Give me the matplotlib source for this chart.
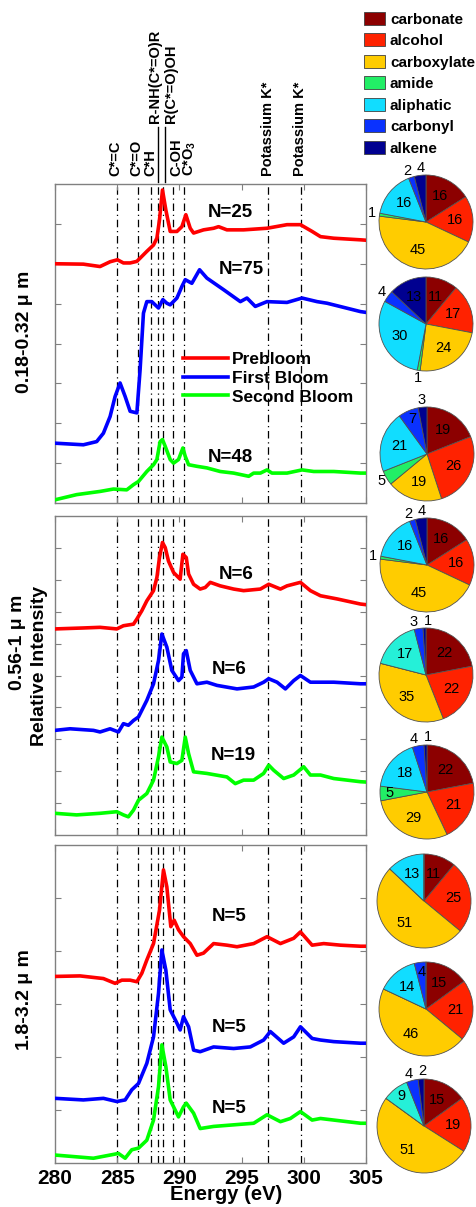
import matplotlib
matplotlib.use('Agg')
import matplotlib.pyplot as plt
from matplotlib.patches import Patch
from matplotlib.transforms import blended_transform_factory
import numpy as np

plt.rcParams['font.family'] = ['Liberation Sans', 'DejaVu Sans']
plt.rcParams['mathtext.fontset'] = 'custom'
plt.rcParams['mathtext.rm'] = 'Liberation Sans:bold'
plt.rcParams['mathtext.default'] = 'rm'

# ---------------- data ----------------
energy_ticks = [280, 285, 290, 295, 300, 305]
feature_energies = [285.0, 286.7, 287.7, 288.3, 288.7, 289.5, 290.4, 297.1, 299.8]
feature_labels = ['C*=C', 'C*=O', 'C*H', 'R-NH(C*=O)R', 'R(C*=O)OH', 'C-OH', 'C*O$_3$',
                  'Potassium K*', 'Potassium K*']
feature_label_x = [284.83, 286.58, 287.65, 288.0, 289.35, 289.74, 290.85, 297.15, 299.73]
series_names = ['Prebloom', 'First Bloom', 'Second Bloom']
size_labels = ['0.18-0.32 \u03bc m', '0.56-1 \u03bc m', '1.8-3.2 \u03bc m']

# panel 1 (0.18-0.32 um)
p1_pre_x = [280.0, 282.28, 283.62, 284.43, 285.02, 285.50, 286.04, 286.58, 286.84, 287.38, 287.92, 288.19,
            288.40, 288.64, 288.91, 289.26, 289.80, 290.20, 290.52, 290.87, 291.14, 291.94, 292.75, 293.15,
            293.82, 295.16, 297.04, 298.65, 299.73, 300.67, 301.34, 302.41, 304.56, 305.0]
p1_pre_y = [6.00, 5.99, 5.93, 6.05, 6.10, 6.02, 6.02, 6.06, 6.14, 6.31, 6.47, 6.64, 7.10, 7.85, 7.35, 6.81,
            6.81, 6.93, 7.23, 6.89, 6.77, 6.85, 6.89, 6.93, 6.85, 6.85, 6.89, 6.98, 6.98, 6.81, 6.68, 6.64,
            6.60, 6.59]
p1_first_x = [280.0, 282.28, 283.35, 283.89, 284.43, 284.83, 285.23, 285.64, 286.04, 286.58, 286.84, 287.11,
              287.38, 287.78, 288.32, 288.67, 288.99, 289.26, 289.80, 290.20, 290.47, 291.00, 291.62, 292.21,
              293.55, 294.90, 295.43, 296.10, 297.04, 298.65, 299.86, 301.07, 301.87, 304.56, 305.0]
p1_first_y = [1.50, 1.46, 1.54, 1.75, 2.17, 2.67, 3.01, 2.67, 2.30, 2.26, 3.34, 4.76, 5.05, 5.05, 4.89, 5.10,
              5.01, 4.97, 5.14, 5.43, 5.60, 5.51, 5.85, 5.64, 5.35, 5.05, 5.14, 4.93, 5.05, 5.03, 5.14, 5.05,
              5.01, 4.80, 4.78]
p1_second_x = [280.0, 281.74, 283.62, 284.70, 285.77, 286.31, 286.71, 287.38, 287.92, 288.19, 288.45, 288.64,
               288.86, 289.26, 289.53, 289.93, 290.28, 290.47, 290.74, 291.41, 292.21, 293.28, 294.36, 295.57,
               295.97, 296.51, 297.04, 297.44, 298.65, 299.86, 300.80, 302.41, 304.56, 305.0]
p1_second_y = [0.08, 0.21, 0.29, 0.35, 0.33, 0.46, 0.54, 0.79, 0.96, 1.09, 1.54, 1.59, 1.42, 1.09, 1.00, 1.09,
               1.38, 1.17, 0.96, 0.92, 0.88, 0.79, 0.75, 0.67, 0.75, 0.75, 0.83, 0.75, 0.75, 0.83, 0.79, 0.79,
               0.75, 0.75]

# panel 2 (0.56-1 um)
p2_pre_x = [280.0, 282.28, 283.62, 284.97, 285.50, 286.31, 286.58, 286.98, 287.38, 287.92, 288.19, 288.40,
            288.64, 288.86, 289.12, 289.53, 289.93, 290.06, 290.28, 290.55, 290.74, 291.14, 291.67, 292.08,
            292.48, 293.28, 294.36, 295.16, 296.51, 297.18, 298.12, 298.65, 299.73, 300.53, 301.34, 302.68,
            304.56, 305.0]
p2_pre_y = [6.46, 6.49, 6.51, 6.46, 6.56, 6.61, 6.77, 7.03, 7.34, 7.66, 8.07, 8.70, 9.17, 9.01, 8.59, 8.23,
            8.07, 8.02, 8.80, 8.70, 8.18, 7.86, 7.71, 7.76, 7.92, 7.81, 7.71, 7.66, 7.71, 7.86, 7.71, 7.81,
            7.92, 7.66, 7.50, 7.40, 7.24, 7.22]
p2_first_x = [280.0, 281.21, 283.09, 283.62, 284.43, 285.10, 285.50, 285.90, 286.31, 286.71, 287.38, 287.92,
              288.32, 288.59, 288.99, 289.39, 289.93, 290.20, 290.33, 290.55, 290.87, 291.41, 292.21, 293.02,
              294.63, 295.97, 296.77, 297.18, 297.85, 298.52, 299.19, 299.73, 300.53, 302.41, 304.56, 305.0]
p2_first_y = [3.28, 3.33, 3.28, 3.23, 3.33, 3.23, 3.49, 3.44, 3.59, 3.70, 4.22, 4.74, 5.47, 6.30, 5.89, 5.16,
              4.84, 4.95, 5.68, 5.78, 5.16, 4.74, 4.79, 4.69, 4.58, 4.64, 4.79, 4.90, 4.79, 4.58, 4.84, 5.00,
              4.79, 4.79, 4.74, 4.74]
p2_second_x = [280.0, 281.74, 283.62, 284.97, 285.50, 285.90, 286.31, 286.71, 287.38, 287.92, 288.32, 288.59,
               288.99, 289.26, 289.80, 290.20, 290.47, 290.74, 291.14, 292.21, 293.82, 294.49, 295.16, 295.97,
               296.77, 297.18, 297.58, 298.38, 299.19, 299.99, 300.53, 301.34, 302.41, 304.56, 305.0]
p2_second_y = [0.68, 0.63, 0.68, 0.73, 0.63, 0.57, 0.78, 1.09, 1.30, 1.72, 2.45, 3.07, 2.76, 2.29, 2.24, 2.34,
               3.07, 2.55, 1.98, 1.93, 1.82, 1.61, 1.72, 1.72, 1.93, 2.19, 2.03, 1.77, 1.88, 2.14, 1.88, 1.88,
               1.77, 1.67, 1.66]

# panel 3 (1.8-3.2 um)
p3_pre_x = [280.0, 282.01, 283.89, 284.83, 285.37, 286.04, 286.58, 286.98, 287.38, 287.92, 288.40, 288.72,
            288.99, 289.31, 289.58, 289.93, 290.33, 290.87, 291.41, 291.94, 292.75, 293.82, 294.63, 295.97,
            297.04, 298.12, 299.19, 299.73, 300.67, 301.60, 302.95, 304.56, 305.0]
p3_pre_y = [3.52, 3.53, 3.48, 3.39, 3.45, 3.45, 3.42, 3.58, 3.83, 4.14, 4.77, 5.53, 5.21, 4.46, 4.58, 4.40,
            4.27, 4.14, 3.92, 3.96, 4.14, 4.11, 4.08, 4.14, 4.27, 4.14, 4.24, 4.36, 4.11, 4.14, 4.11, 4.09, 4.09]
p3_first_x = [280.0, 282.28, 283.89, 284.97, 285.64, 286.17, 286.71, 287.38, 287.92, 288.32, 288.59, 288.91,
              289.26, 289.80, 290.06, 290.33, 290.74, 291.14, 291.67, 292.75, 294.36, 295.70, 296.77, 297.31,
              298.38, 299.19, 299.73, 300.67, 301.34, 302.41, 304.56, 305.0]
p3_first_y = [1.22, 1.19, 1.22, 1.16, 1.19, 1.38, 1.50, 1.88, 2.38, 3.20, 4.02, 3.64, 2.89, 2.64, 2.51, 2.76,
              2.57, 2.13, 2.10, 2.19, 2.16, 2.19, 2.32, 2.48, 2.26, 2.38, 2.57, 2.35, 2.32, 2.29, 2.26, 2.26]
p3_second_x = [280.0, 283.09, 284.43, 285.10, 285.64, 286.17, 286.71, 287.38, 287.92, 288.32, 288.59, 288.91,
               289.26, 289.93, 290.33, 290.55, 291.14, 291.67, 292.75, 294.36, 295.97, 297.04, 298.12, 298.92,
               299.73, 300.67, 301.34, 302.41, 304.56, 305.0]
p3_second_y = [0.15, 0.09, 0.15, 0.18, 0.09, 0.25, 0.28, 0.43, 0.81, 1.44, 2.23, 1.82, 1.19, 0.87, 1.06, 1.13,
               0.94, 0.65, 0.69, 0.72, 0.75, 0.91, 0.78, 0.84, 0.97, 0.81, 0.84, 0.81, 0.75, 0.75]

# N labels
n_labels = [['N=25', 'N=75', 'N=48'], ['N=6', 'N=6', 'N=19'], ['N=5', 'N=5', 'N=5']]
n_label_x = [[294.1, 295.0, 294.1], [294.6, 294.0, 294.3], [294.0, 294.0, 294.0]]
n_label_y = [[7.28, 5.85, 1.15], [8.18, 5.19, 2.50], [4.65, 2.56, 1.03]]

# functional-group fractions (%)
groups = ['carbonate', 'alcohol', 'carboxylate', 'amide', 'aliphatic', 'carbonyl', 'alkene']
pie_fine_pre = [16, 16, 45, 1, 16, 2, 4]
pie_fine_first = [11, 17, 24, 1, 30, 4, 13]
pie_fine_second = [19, 26, 19, 5, 21, 7, 3]
pie_mid_pre = [16, 16, 45, 1, 16, 2, 4]
pie_mid_first = [22, 22, 35, 0, 17, 3, 1]
pie_mid_second = [22, 21, 29, 5, 18, 4, 1]
pie_coarse_pre = [11, 25, 51, 0, 13, 0, 0]
pie_coarse_first = [15, 21, 46, 0, 14, 4, 0]
pie_coarse_second = [15, 19, 51, 0, 9, 4, 2]

# ---------------- style ----------------
W, H = 477, 1207
fig = plt.figure(figsize=(W / 100, H / 100), dpi=100)

def px_axes(l, t, r, b):
    return fig.add_axes([l / W, 1 - b / H, (r - l) / W, (b - t) / H])

line_colors = ['#ff0000', '#0000ff', '#00ff00']
group_colors = ['#8c0000', '#ff2200', '#ffcc00', '#22ee66', '#11ddff', '#0a32ff', '#000090']
spine_col = '#808080'

panels = [
    ((55, 184, 366, 503), (0, 8), [(p1_pre_x, p1_pre_y), (p1_first_x, p1_first_y), (p1_second_x, p1_second_y)]),
    ((55, 516, 366, 835), (0, 10), [(p2_pre_x, p2_pre_y), (p2_first_x, p2_first_y), (p2_second_x, p2_second_y)]),
    ((55, 845, 366, 1163), (0, 6), [(p3_pre_x, p3_pre_y), (p3_first_x, p3_first_y), (p3_second_x, p3_second_y)]),
]

axes = []
for pi, (box, ylim, curves) in enumerate(panels):
    ax = px_axes(*box)
    axes.append(ax)
    for e in feature_energies:
        ax.axvline(e, color='black', lw=0.9, ls=(0, (6, 3, 1, 3)), zorder=1)
    for (xs, ys), c, name in zip(curves, line_colors, series_names):
        ax.plot(xs, ys, color=c, lw=2.6, label=name, zorder=3, solid_joinstyle='round')
    for t, x, y in zip(n_labels[pi], n_label_x[pi], n_label_y[pi]):
        ax.text(x, y, t, ha='center', va='center', fontsize=13.5, fontweight='bold', zorder=4)
    ax.set_xlim(280, 305)
    ax.set_ylim(*ylim)
    ax.set_xticks(energy_ticks)
    ax.set_yticks(np.arange(ylim[0] + 1, ylim[1]))
    ax.set_yticklabels([])
    ax.tick_params(direction='in', top=True, right=True, length=4, width=0.8, color=spine_col)
    for s in ax.spines.values():
        s.set_color(spine_col)
        s.set_linewidth(1.0)
    if pi < 2:
        ax.set_xticklabels([])
    else:
        ax.set_xticklabels([str(t) for t in energy_ticks], fontsize=15, fontweight='bold')
        ax.tick_params(axis='x', pad=4)

# legend in the top panel
leg = axes[0].legend(loc='upper left', bbox_to_anchor=(0.41, 0.475), frameon=False,
                     prop=dict(size=12.5, weight='bold'), handlelength=2.6, handletextpad=0.25,
                     labelspacing=0.22, borderpad=0, borderaxespad=0)

# feature labels above the top panel
ax0 = axes[0]
for i, (lab, xl) in enumerate(zip(feature_labels, feature_label_x)):
    off = 44 if i in (3, 4) else 6
    ax0.annotate(lab, xy=(xl, 1.0), xycoords=('data', 'axes fraction'), xytext=(0, off),
                 textcoords='offset points', rotation=90, ha='center', va='bottom',
                 fontsize=10.5, fontweight='bold', annotation_clip=False)
tr = blended_transform_factory(ax0.transData, ax0.transAxes)
for xe in (288.3, 288.85):
    ax0.plot([xe, xe], [1.006, 1.179], transform=tr, color='black', lw=1.0, clip_on=False)

# axis labels
fig.text(226 / W, 1 - 1195 / H, 'Energy (eV)', ha='center', va='center', fontsize=14.5, fontweight='bold')
fig.text(25 / W, 1 - 332 / H, size_labels[0], rotation=90, ha='center', va='center', fontsize=14, fontweight='bold')
fig.text(18 / W, 1 - 642 / H, size_labels[1], rotation=90, ha='center', va='center', fontsize=14, fontweight='bold')
fig.text(40 / W, 1 - 666 / H, 'Relative Intensity', rotation=90, ha='center', va='center', fontsize=14, fontweight='bold')
fig.text(25 / W, 1 - 1000 / H, size_labels[2], rotation=90, ha='center', va='center', fontsize=14, fontweight='bold')

# pies
pie_sets = [pie_fine_pre, pie_fine_first, pie_fine_second, pie_mid_pre, pie_mid_first, pie_mid_second,
            pie_coarse_pre, pie_coarse_first, pie_coarse_second]
pie_centers = [(426, 222), (426, 324), (427, 454), (427, 565), (426, 675), (427, 792),
               (424, 901), (426, 1009), (424, 1126)]
R_PX = 47.0
half = 65
turquoise_pies = {4, 8}
label_r_override = {(2, 3): 1.12, (7, 5): 0.8}
MIN_SEP = 15.0
for k, (vals, (cx, cy)) in enumerate(zip(pie_sets, pie_centers)):
    pax = px_axes(cx - half, cy - half, cx + half, cy + half)
    cols = list(group_colors)
    if k in turquoise_pies:
        cols[4] = '#25f0d8'
    pax.pie(vals, colors=cols, startangle=90, counterclock=False, radius=1.0,
            wedgeprops=dict(edgecolor='#505050', linewidth=0.6))
    lim = half / R_PX
    pax.set_xlim(-lim, lim)
    pax.set_ylim(-lim, lim)
    pax.set_aspect('equal')
    pax.axis('off')
    total = float(sum(vals))
    cum = 0.0
    labs = []
    for j, v in enumerate(vals):
        if v > 0:
            ang = 90 - 360 * (cum + v / 2) / total
            if (k, j) in label_r_override:
                r = label_r_override[(k, j)]
            elif v < 5:
                r = 1.16
            elif v < 10:
                r = 0.8
            else:
                r = 0.62
            labs.append([ang, r, v])
        cum += v
    # spread adjacent outside labels so they do not overlap
    outs = [l for l in labs if l[1] > 1]
    for a, b in zip(outs[:-1], outs[1:]):
        d = a[0] - b[0]
        if abs(d) < MIN_SEP:
            mid = (a[0] + b[0]) / 2
            a[0] = mid + MIN_SEP / 2
            b[0] = mid - MIN_SEP / 2
    for ang, r, v in labs:
        t = np.deg2rad(ang)
        pax.text(r * np.cos(t), r * np.sin(t), str(v), ha='center', va='center', fontsize=10.5)

# group legend at top right
handles = [Patch(facecolor=c, edgecolor='#404040', linewidth=0.6) for c in group_colors]
fig.legend(handles, groups, loc='upper left', bbox_to_anchor=(364 / W, 1 - 12 / H), frameon=False,
           prop=dict(size=11, weight='bold'), handlelength=1.4, handleheight=0.9,
           handletextpad=0.3, labelspacing=0.45, borderpad=0, borderaxespad=0)

fig.savefig('out.png', dpi=100)
